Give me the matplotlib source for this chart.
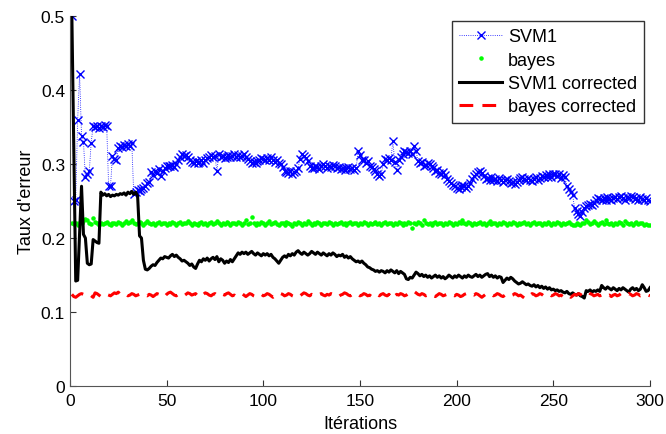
import numpy as np
import matplotlib
matplotlib.use("Agg")
import matplotlib.pyplot as plt

plt.rcParams['font.family'] = ['Liberation Sans', 'DejaVu Sans']

iterations = np.arange(1, 301)

svm1 = [
    0.500, 0.250, 0.252, 0.360, 0.422, 0.338, 0.330, 0.282, 0.286, 0.290,
    0.329, 0.352, 0.350, 0.352, 0.349, 0.351, 0.350, 0.353, 0.352, 0.271,
    0.271, 0.311, 0.307, 0.305, 0.322, 0.325, 0.323, 0.326, 0.324, 0.327,
    0.325, 0.328, 0.259, 0.262, 0.265, 0.263, 0.266, 0.268, 0.270, 0.275,
    0.276, 0.289, 0.285, 0.291, 0.288, 0.293, 0.284, 0.290, 0.294, 0.297,
    0.298, 0.297, 0.299, 0.296, 0.300, 0.305, 0.310, 0.313, 0.311, 0.312,
    0.309, 0.305, 0.303, 0.302, 0.304, 0.301, 0.303, 0.305, 0.302, 0.306,
    0.308, 0.310, 0.312, 0.309, 0.311, 0.290, 0.313, 0.309, 0.311, 0.308,
    0.310, 0.312, 0.309, 0.311, 0.313, 0.310, 0.312, 0.309, 0.311, 0.313,
    0.310, 0.307, 0.304, 0.302, 0.303, 0.301, 0.304, 0.306, 0.308, 0.307,
    0.305, 0.308, 0.306, 0.309, 0.305, 0.303, 0.306, 0.302, 0.300, 0.296,
    0.291, 0.289, 0.288, 0.290, 0.287, 0.289, 0.291, 0.295, 0.307, 0.313,
    0.311, 0.308, 0.304, 0.297, 0.295, 0.294, 0.297, 0.296, 0.293, 0.298,
    0.300, 0.297, 0.295, 0.298, 0.296, 0.299, 0.297, 0.294, 0.296, 0.293,
    0.295, 0.292, 0.294, 0.296, 0.293, 0.295, 0.292, 0.294, 0.317, 0.312,
    0.305, 0.306, 0.302, 0.304, 0.298, 0.296, 0.293, 0.290, 0.287, 0.284,
    0.286, 0.300, 0.307, 0.305, 0.308, 0.306, 0.331, 0.303, 0.292, 0.305,
    0.309, 0.314, 0.318, 0.316, 0.315, 0.317, 0.314, 0.325, 0.318, 0.304,
    0.301, 0.303, 0.297, 0.299, 0.302, 0.300, 0.298, 0.294, 0.290, 0.292,
    0.288, 0.287, 0.289, 0.285, 0.280, 0.277, 0.274, 0.272, 0.270, 0.268,
    0.266, 0.269, 0.272, 0.270, 0.267, 0.271, 0.275, 0.280, 0.284, 0.287,
    0.289, 0.290, 0.288, 0.284, 0.280, 0.281, 0.278, 0.282, 0.279, 0.280,
    0.277, 0.281, 0.279, 0.276, 0.278, 0.280, 0.277, 0.275, 0.276, 0.273,
    0.276, 0.278, 0.281, 0.283, 0.280, 0.278, 0.281, 0.279, 0.277, 0.280,
    0.282, 0.279, 0.281, 0.284, 0.282, 0.285, 0.283, 0.286, 0.283, 0.286,
    0.287, 0.284, 0.286, 0.281, 0.285, 0.283, 0.270, 0.266, 0.262, 0.258,
    0.240, 0.236, 0.232, 0.230, 0.235, 0.240, 0.243, 0.244, 0.246, 0.245,
    0.248, 0.252, 0.254, 0.253, 0.251, 0.254, 0.252, 0.255, 0.253, 0.251,
    0.254, 0.256, 0.253, 0.255, 0.257, 0.254, 0.252, 0.256, 0.254, 0.257,
    0.255, 0.253, 0.254, 0.252, 0.255, 0.253, 0.251, 0.254, 0.252, 0.250,
]

bayes = [
    0.220, 0.219, 0.221, 0.218, 0.222, 0.220, 0.223, 0.226, 0.224, 0.221,
    0.219, 0.227, 0.222, 0.220, 0.218, 0.221, 0.219, 0.220, 0.222, 0.219,
    0.218, 0.220, 0.221, 0.219, 0.222, 0.220, 0.218, 0.221, 0.223, 0.220,
    0.222, 0.224, 0.221, 0.219, 0.220, 0.222, 0.220, 0.218, 0.221, 0.223,
    0.220, 0.219, 0.221, 0.218, 0.220, 0.222, 0.219, 0.221, 0.220, 0.218,
    0.221, 0.219, 0.222, 0.220, 0.218, 0.220, 0.222, 0.219, 0.221, 0.220,
    0.223, 0.220, 0.218, 0.221, 0.219, 0.217, 0.220, 0.222, 0.219, 0.221,
    0.218, 0.220, 0.222, 0.219, 0.221, 0.223, 0.220, 0.218, 0.221, 0.219,
    0.222, 0.220, 0.218, 0.221, 0.220, 0.219, 0.222, 0.220, 0.218, 0.221,
    0.224, 0.219, 0.221, 0.229, 0.220, 0.218, 0.221, 0.219, 0.222, 0.220,
    0.218, 0.221, 0.223, 0.219, 0.220, 0.222, 0.219, 0.217, 0.221, 0.220,
    0.218, 0.222, 0.220, 0.219, 0.216, 0.221, 0.219, 0.222, 0.220, 0.218,
    0.221, 0.219, 0.223, 0.220, 0.218, 0.221, 0.219, 0.222, 0.220, 0.218,
    0.221, 0.220, 0.219, 0.222, 0.220, 0.218, 0.221, 0.219, 0.220, 0.222,
    0.219, 0.221, 0.218, 0.220, 0.222, 0.219, 0.221, 0.220, 0.218, 0.221,
    0.219, 0.222, 0.220, 0.218, 0.221, 0.219, 0.220, 0.222, 0.219, 0.221,
    0.218, 0.220, 0.222, 0.219, 0.221, 0.220, 0.218, 0.221, 0.219, 0.222,
    0.220, 0.218, 0.221, 0.219, 0.222, 0.220, 0.214, 0.221, 0.219, 0.222,
    0.220, 0.218, 0.224, 0.220, 0.219, 0.221, 0.218, 0.220, 0.222, 0.219,
    0.221, 0.220, 0.218, 0.221, 0.219, 0.222, 0.220, 0.218, 0.221, 0.219,
    0.222, 0.220, 0.224, 0.221, 0.219, 0.222, 0.220, 0.218, 0.221, 0.219,
    0.220, 0.222, 0.219, 0.221, 0.218, 0.220, 0.223, 0.219, 0.221, 0.220,
    0.218, 0.221, 0.219, 0.222, 0.220, 0.218, 0.221, 0.219, 0.222, 0.220,
    0.218, 0.221, 0.219, 0.220, 0.222, 0.219, 0.221, 0.218, 0.220, 0.222,
    0.219, 0.221, 0.220, 0.218, 0.221, 0.219, 0.222, 0.220, 0.218, 0.221,
    0.219, 0.222, 0.220, 0.218, 0.221, 0.219, 0.220, 0.222, 0.219, 0.217,
    0.218, 0.220, 0.219, 0.217, 0.220, 0.221, 0.225, 0.222, 0.219, 0.220,
    0.223, 0.221, 0.218, 0.220, 0.222, 0.219, 0.224, 0.221, 0.219, 0.220,
    0.218, 0.221, 0.219, 0.222, 0.220, 0.218, 0.223, 0.221, 0.219, 0.220,
    0.218, 0.220, 0.222, 0.219, 0.221, 0.220, 0.218, 0.219, 0.217, 0.218,
]

svm1_corrected = [
    0.500, 0.320, 0.142, 0.143, 0.205, 0.270, 0.205, 0.200, 0.166, 0.164,
    0.165, 0.198, 0.196, 0.194, 0.193, 0.262, 0.258, 0.260, 0.257, 0.259,
    0.256, 0.258, 0.257, 0.259, 0.258, 0.260, 0.259, 0.261, 0.258, 0.262,
    0.260, 0.263, 0.259, 0.262, 0.257, 0.203, 0.200, 0.170, 0.158, 0.157,
    0.159, 0.162, 0.164, 0.163, 0.167, 0.170, 0.173, 0.172, 0.175, 0.174,
    0.173, 0.176, 0.178, 0.175, 0.177, 0.174, 0.172, 0.169, 0.170, 0.168,
    0.166, 0.163, 0.165, 0.161, 0.159, 0.165, 0.170, 0.168, 0.172, 0.170,
    0.173, 0.169, 0.172, 0.174, 0.171, 0.175, 0.168, 0.172, 0.170, 0.166,
    0.169, 0.167, 0.171, 0.168, 0.172, 0.176, 0.180, 0.178, 0.181, 0.179,
    0.181, 0.178, 0.180, 0.182, 0.179, 0.177, 0.180, 0.178, 0.176, 0.179,
    0.177, 0.179, 0.176, 0.178, 0.174, 0.172, 0.169, 0.166, 0.170, 0.174,
    0.176, 0.174, 0.178, 0.176, 0.179, 0.177, 0.181, 0.183, 0.180, 0.178,
    0.181, 0.179, 0.177, 0.179, 0.182, 0.180, 0.178, 0.181, 0.179, 0.177,
    0.180, 0.178, 0.176, 0.179, 0.177, 0.180, 0.178, 0.175, 0.177, 0.176,
    0.178, 0.174, 0.176, 0.173, 0.175, 0.172, 0.170, 0.168, 0.169, 0.167,
    0.169, 0.166, 0.164, 0.161, 0.160, 0.158, 0.157, 0.155, 0.156, 0.154,
    0.156, 0.155, 0.153, 0.156, 0.154, 0.157, 0.155, 0.153, 0.156, 0.152,
    0.155, 0.153, 0.151, 0.145, 0.144, 0.147, 0.146, 0.150, 0.154, 0.152,
    0.149, 0.151, 0.148, 0.150, 0.147, 0.149, 0.146, 0.148, 0.150, 0.147,
    0.149, 0.146, 0.148, 0.145, 0.147, 0.150, 0.148, 0.146, 0.149, 0.147,
    0.150, 0.148, 0.146, 0.149, 0.147, 0.150, 0.148, 0.147, 0.149, 0.151,
    0.148, 0.150, 0.147, 0.149, 0.151, 0.152, 0.148, 0.150, 0.147, 0.149,
    0.146, 0.148, 0.147, 0.140, 0.143, 0.146, 0.144, 0.147, 0.145, 0.142,
    0.140, 0.138, 0.139, 0.141, 0.139, 0.137, 0.138, 0.136, 0.135, 0.137,
    0.134, 0.136, 0.133, 0.135, 0.132, 0.134, 0.131, 0.133, 0.130, 0.131,
    0.129, 0.130, 0.128, 0.129, 0.127, 0.126, 0.128, 0.125, 0.124, 0.126,
    0.124, 0.123, 0.125, 0.122, 0.121, 0.119, 0.129, 0.128, 0.130, 0.127,
    0.129, 0.128, 0.130, 0.128, 0.136, 0.133, 0.131, 0.134, 0.132, 0.130,
    0.133, 0.131, 0.129, 0.132, 0.130, 0.133, 0.131, 0.129, 0.127, 0.131,
    0.133, 0.130, 0.132, 0.129, 0.131, 0.137, 0.133, 0.128, 0.129, 0.133,
]

bayes_corrected = [
    0.124, 0.121, 0.120, 0.122, 0.124, 0.125, 0.124, 0.123, 0.125, 0.124,
    0.122, 0.120, 0.126, 0.125, 0.123, 0.121, 0.120, 0.122, 0.124, 0.123,
    0.122, 0.124, 0.126, 0.125, 0.127, 0.124, 0.123, 0.125, 0.124, 0.122,
    0.123, 0.125, 0.124, 0.122, 0.123, 0.124, 0.126, 0.125, 0.123, 0.122,
    0.124, 0.123, 0.121, 0.123, 0.125, 0.124, 0.122, 0.123, 0.121, 0.124,
    0.126, 0.127, 0.125, 0.123, 0.122, 0.124, 0.123, 0.121, 0.122, 0.124,
    0.126, 0.125, 0.123, 0.124, 0.125, 0.122, 0.120, 0.122, 0.124, 0.126,
    0.125, 0.123, 0.122, 0.124, 0.125, 0.123, 0.121, 0.122, 0.124, 0.123,
    0.125, 0.126, 0.124, 0.122, 0.123, 0.121, 0.122, 0.124, 0.125, 0.123,
    0.121, 0.123, 0.125, 0.124, 0.122, 0.121, 0.123, 0.125, 0.124, 0.122,
    0.123, 0.125, 0.124, 0.122, 0.120, 0.122, 0.124, 0.123, 0.125, 0.124,
    0.122, 0.123, 0.125, 0.124, 0.122, 0.121, 0.123, 0.124, 0.122, 0.124,
    0.126, 0.125, 0.123, 0.122, 0.124, 0.123, 0.121, 0.122, 0.124, 0.125,
    0.123, 0.122, 0.124, 0.123, 0.125, 0.124, 0.122, 0.123, 0.121, 0.123,
    0.124, 0.126, 0.125, 0.123, 0.122, 0.124, 0.123, 0.125, 0.124, 0.122,
    0.123, 0.125, 0.124, 0.122, 0.123, 0.121, 0.123, 0.125, 0.124, 0.122,
    0.124, 0.125, 0.123, 0.122, 0.124, 0.120, 0.118, 0.122, 0.124, 0.123,
    0.125, 0.124, 0.122, 0.123, 0.125, 0.127, 0.129, 0.128, 0.126, 0.124,
    0.123, 0.125, 0.124, 0.122, 0.123, 0.125, 0.124, 0.122, 0.121, 0.123,
    0.125, 0.124, 0.122, 0.123, 0.124, 0.126, 0.125, 0.123, 0.122, 0.124,
    0.123, 0.121, 0.122, 0.124, 0.125, 0.123, 0.122, 0.124, 0.123, 0.125,
    0.124, 0.122, 0.120, 0.122, 0.124, 0.123, 0.125, 0.124, 0.122, 0.123,
    0.125, 0.124, 0.122, 0.121, 0.123, 0.125, 0.124, 0.122, 0.123, 0.125,
    0.124, 0.122, 0.123, 0.121, 0.119, 0.122, 0.124, 0.123, 0.125, 0.124,
    0.122, 0.123, 0.125, 0.124, 0.122, 0.121, 0.123, 0.124, 0.122, 0.123,
    0.125, 0.124, 0.122, 0.123, 0.121, 0.123, 0.124, 0.122, 0.120, 0.122,
    0.124, 0.123, 0.125, 0.124, 0.122, 0.123, 0.125, 0.127, 0.125, 0.124,
    0.122, 0.123, 0.124, 0.122, 0.123, 0.125, 0.124, 0.122, 0.123, 0.121,
    0.123, 0.124, 0.122, 0.123, 0.125, 0.124, 0.122, 0.123, 0.125, 0.124,
    0.122, 0.123, 0.125, 0.124, 0.122, 0.123, 0.124, 0.122, 0.123, 0.122,
]

fig = plt.figure(figsize=(6.66, 4.35), dpi=100)
ax = fig.add_axes([0.105, 0.110, 0.871, 0.851])

ax.plot(iterations, svm1, ':', color='blue', lw=0.6, marker='x', ms=5.5, mew=1.0, label='SVM1')
ax.plot(iterations, bayes, linestyle='none', marker='.', color=(0, 1, 0), ms=4.5, label='bayes')
ax.plot(iterations, svm1_corrected, '-', color='black', lw=2.2, label='SVM1 corrected')
ax.plot(iterations, bayes_corrected, '--', color='red', lw=2.2, dashes=(4.5, 3), label='bayes corrected')

ax.set_xlim(0, 300)
ax.set_ylim(0, 0.5)
ax.set_xticks([0, 50, 100, 150, 200, 250, 300])
ax.set_yticks([0, 0.1, 0.2, 0.3, 0.4, 0.5])
ax.set_yticklabels(['0', '0.1', '0.2', '0.3', '0.4', '0.5'])
ax.tick_params(direction='in', labelsize=12.5, length=4, color='#333333')
ax.tick_params(axis='x', pad=5)
ax.spines['top'].set_visible(False)
ax.spines['right'].set_visible(False)
for side in ('left', 'bottom'):
    ax.spines[side].set_color('#555555')
ax.set_xlabel('Itérations', fontsize=13, labelpad=5)
ax.set_ylabel("Taux d'erreur", fontsize=13, labelpad=4)

leg = ax.legend(loc='upper right', fontsize=13, frameon=True, fancybox=False,
                edgecolor='black', borderpad=0.4, labelspacing=0.35, numpoints=1,
                handlelength=2.4, handletextpad=0.3, borderaxespad=0,
                bbox_to_anchor=(0.99, 0.986))
leg.get_frame().set_linewidth(1.0)

fig.savefig('out.png', dpi=100)
